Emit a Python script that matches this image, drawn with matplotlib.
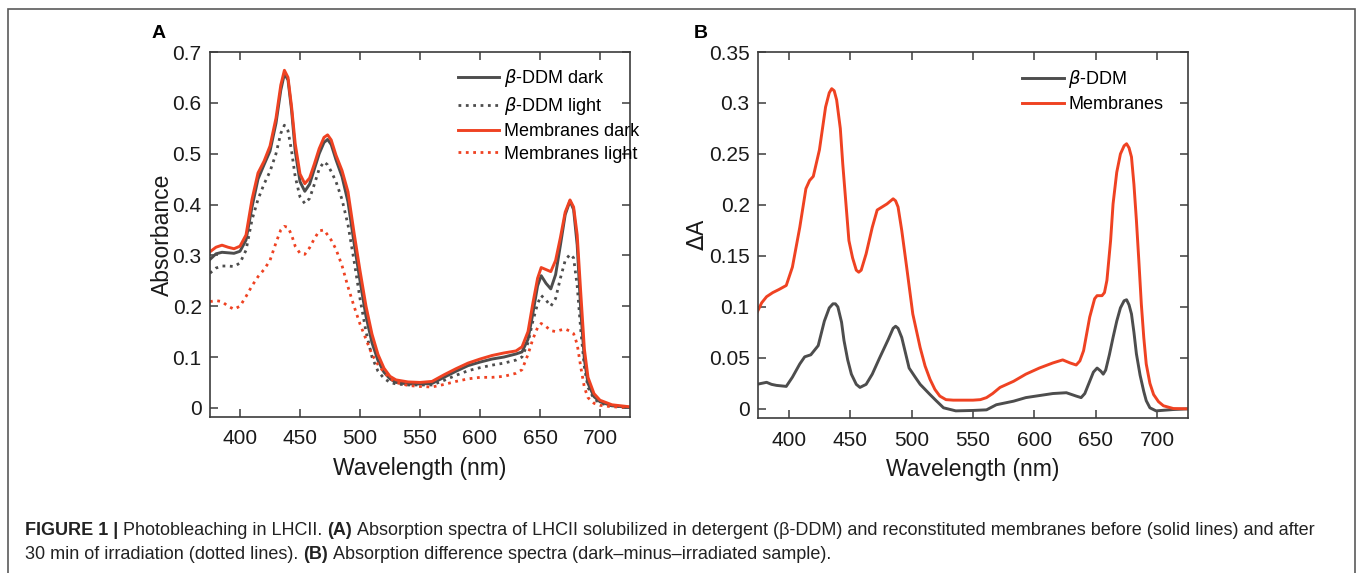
import matplotlib
matplotlib.use("Agg")
import matplotlib.pyplot as plt
from matplotlib.patches import Rectangle
from matplotlib.transforms import IdentityTransform

plt.rcParams['font.family'] = ['Liberation Sans', 'DejaVu Sans']
plt.rcParams['mathtext.fontset'] = 'dejavusans'

# ---- panel A: absorption spectra ----
wl_a = [375, 380, 385, 390, 395, 400, 405, 410, 415, 420, 425, 430, 434, 437, 440,
        443, 446, 450, 454, 458, 462, 466, 470, 473, 476, 480, 485, 490, 495, 500,
        505, 510, 515, 520, 525, 530, 540, 550, 560, 570, 580, 590, 600, 610, 620,
        630, 635, 640, 644, 648, 651, 655, 659, 663, 667, 671, 675, 678, 681, 684,
        687, 690, 695, 700, 710, 725]

ddm_dark = [.292, .303, .306, .305, .304, .308, .330, .395, .450, .478, .505, .560, .625, .657, .645,
            .585, .505, .445, .426, .440, .470, .500, .522, .528, .518, .488, .455, .405, .325, .250,
            .180, .128, .093, .070, .057, .050, .047, .047, .048, .060, .072, .083, .090, .096, .100,
            .106, .110, .135, .185, .240, .260, .245, .234, .262, .320, .380, .407, .390, .320, .190,
            .095, .048, .022, .012, .004, .001]

ddm_light = [.265, .275, .279, .279, .278, .285, .310, .370, .410, .440, .465, .500, .540, .556, .545,
             .505, .455, .415, .402, .412, .440, .470, .484, .478, .465, .445, .410, .360, .290, .215,
             .150, .100, .072, .058, .050, .047, .045, .045, .045, .054, .064, .073, .079, .084, .088,
             .094, .100, .128, .170, .205, .221, .212, .200, .215, .255, .290, .302, .295, .240, .152,
             .080, .040, .018, .009, .004, .001]

mem_dark = [.307, .316, .320, .316, .313, .318, .340, .410, .462, .485, .515, .570, .635, .664, .650,
            .592, .520, .460, .441, .452, .480, .510, .532, .537, .527, .497, .467, .425, .345, .270,
            .200, .145, .105, .078, .062, .055, .051, .050, .052, .065, .077, .088, .096, .103, .108,
            .112, .120, .150, .205, .255, .276, .272, .268, .290, .335, .385, .409, .395, .340, .225,
            .115, .060, .028, .015, .006, .002]

mem_light = [.209, .211, .209, .200, .194, .200, .219, .240, .258, .272, .290, .325, .350, .357, .355,
             .340, .318, .304, .302, .315, .333, .348, .350, .340, .330, .312, .280, .238, .200, .165,
             .135, .105, .085, .070, .058, .050, .044, .042, .041, .046, .052, .057, .060, .060, .062,
             .068, .075, .105, .135, .158, .166, .160, .152, .150, .153, .155, .151, .146, .125, .080,
             .040, .020, .009, .005, .002, .001]

# ---- panel B: difference spectra (dark minus irradiated) ----
wl_b_mem = [374, 378, 382, 387, 392, 398, 403, 409, 414, 417, 420, 425, 430, 433, 435, 437, 439,
            442, 444, 447, 449, 452, 455, 457, 459, 463, 468, 472, 476, 480, 485, 487, 489, 492,
            496, 501, 507, 511, 515, 519, 523, 528, 534, 550, 556, 561, 566, 572, 583, 593, 604,
            615, 623, 629, 634, 637, 640, 645, 649, 651, 655, 657, 659, 662, 664, 667, 670, 673,
            675, 677, 679, 681, 683, 685, 687, 689, 691, 694, 697, 701, 705, 713, 725]
diff_mem = [.094, .104, .110, .114, .117, .121, .139, .178, .216, .224, .228, .254, .296, .310, .314, .312, .303,
            .275, .240, .195, .165, .148, .136, .134, .136, .152, .178, .195, .198, .201, .206, .204, .198, .175,
            .139, .093, .060, .042, .029, .019, .0125, .009, .0085, .0085, .009, .011, .015, .021, .027, .034, .040,
            .045, .048, .045, .043, .047, .057, .090, .108, .111, .111, .114, .126, .165, .201, .232, .250, .258,
            .260, .256, .247, .220, .185, .145, .103, .070, .044, .025, .014, .007, .003, .0003, 0]

wl_b_ddm = [374, 378, 382, 386, 390, 394, 398, 403, 409, 413, 418, 424, 429, 433, 436, 438, 440,
            443, 445, 448, 451, 455, 458, 463, 468, 474, 481, 485, 487, 489, 492, 495, 498, 503,
            507, 511, 515, 520, 526, 536, 550, 561, 569, 583, 593, 604, 615, 626, 634, 638, 641,
            644, 648, 651, 654, 656, 658, 661, 664, 667, 670, 673, 675, 677, 679, 681, 683, 686,
            689, 691, 694, 699, 713, 725]
diff_ddm = [.024, .025, .026, .024, .023, .0225, .022, .031, .044, .051, .053, .062, .086, .099, .103, .103, .100,
            .085, .067, .048, .034, .024, .021, .024, .034, .050, .068, .079, .081, .079, .070, .055, .040, .031,
            .024, .019, .014, .008, .001, -.002, -.0016, -.001, .004, .0075, .011, .013, .015, .0158, .0125, .011, .015,
            .024, .036, .040, .037, .034, .038, .053, .070, .086, .099, .106, .107, .102, .093, .075, .054, .033,
            .017, .008, .001, -.002, -.0007, 0]

x_ticks = [400, 450, 500, 550, 600, 650, 700]
a_yticks = [0, 0.1, 0.2, 0.3, 0.4, 0.5, 0.6, 0.7]
a_ylabels = ['0', '0.1', '0.2', '0.3', '0.4', '0.5', '0.6', '0.7']
b_yticks = [0, 0.05, 0.1, 0.15, 0.2, 0.25, 0.3, 0.35]
b_ylabels = ['0', '0.05', '0.1', '0.15', '0.2', '0.25', '0.3', '0.35']

GREY = '#4d4d4d'
RED = '#ef4222'
SPINE = '#3c3c3c'

W, H = 1357, 573
fig = plt.figure(figsize=(W / 100, H / 100), dpi=100)


def px_axes(l, t, r, b):
    return fig.add_axes([l / W, 1 - b / H, (r - l) / W, (b - t) / H])


def style(ax):
    for s in ax.spines.values():
        s.set_color(SPINE)
        s.set_linewidth(1.2)
    ax.tick_params(direction='in', length=5.5, width=1.1, color=SPINE,
                   top=True, right=True, labelsize=15, labelcolor='#1a1a1a')
    ax.tick_params(axis='x', pad=9)
    ax.tick_params(axis='y', pad=6)
    ax.set_xlim(375, 725)
    ax.set_xticks(x_ticks)
    ax.set_xticklabels([str(v) for v in x_ticks])
    ax.set_xlabel('Wavelength (nm)', fontsize=16.5, color='#1a1a1a', labelpad=6)


axA = px_axes(210, 52, 630, 417)
axA.plot(wl_a, ddm_dark, color=GREY, lw=2.1, label=r'$\beta$-DDM dark')
axA.plot(wl_a, ddm_light, color=GREY, lw=2.0, ls=':', label=r'$\beta$-DDM light')
axA.plot(wl_a, mem_dark, color=RED, lw=2.1, label='Membranes dark')
axA.plot(wl_a, mem_light, color=RED, lw=2.0, ls=':', label='Membranes light')
style(axA)
axA.set_ylim(-0.018, 0.7)
axA.set_yticks(a_yticks)
axA.set_yticklabels(a_ylabels)
axA.set_ylabel('Absorbance', fontsize=16.5, color='#1a1a1a', labelpad=-1)
axA.legend(loc='upper left', bbox_to_anchor=(0.59, 0.958), frameon=False, fontsize=13,
           handlelength=2.3, handletextpad=0.25, labelspacing=0.32, borderpad=0, borderaxespad=0)

axB = px_axes(758, 52, 1188, 418)
axB.plot(wl_b_ddm, diff_ddm, color=GREY, lw=2.1, label=r'$\beta$-DDM')
axB.plot(wl_b_mem, diff_mem, color=RED, lw=2.1, label='Membranes')
style(axB)
axB.set_ylim(-0.009, 0.35)
axB.set_yticks(b_yticks)
axB.set_yticklabels(b_ylabels)
axB.set_ylabel(r'$\Delta$A', fontsize=16.5, color='#1a1a1a', labelpad=0)
axB.legend(loc='upper left', bbox_to_anchor=(0.614, 0.956), frameon=False, fontsize=13,
           handlelength=2.3, handletextpad=0.25, labelspacing=0.32, borderpad=0, borderaxespad=0)

# panel letters
fig.text(152 / W, 1 - 34 / H, 'A', fontsize=14, fontweight='bold', va='center')
fig.text(694 / W, 1 - 34 / H, 'B', fontsize=14, fontweight='bold', va='center')

# outer frame
fig.add_artist(Rectangle((8 / W, -0.05), (1355 - 8) / W, 1.05 - 9 / H, transform=fig.transFigure,
                         fill=False, edgecolor='#5a5a5a', lw=1.2))

# caption with bold fragments
cap_size = 12.95
renderer = fig.canvas.get_renderer()
space = cap_size * 100 / 72 * 0.278


def caption_line(parts, x, y):
    for txt, bold in parts:
        t = fig.text(x, H - y, txt, fontsize=cap_size, color='#222222',
                     fontweight='bold' if bold else 'normal',
                     transform=IdentityTransform(), va='baseline')
        x += t.get_window_extent(renderer).width + space


caption_line([('FIGURE 1 |', True), ('Photobleaching in LHCII.', False), ('(A)', True),
              ('Absorption spectra of LHCII solubilized in detergent (\u03b2-DDM) and reconstituted '
               'membranes before (solid lines) and after', False)], 25, 535)
caption_line([('30 min of irradiation (dotted lines).', False), ('(B)', True),
              ('Absorption difference spectra (dark\u2013minus\u2013irradiated sample).', False)], 25, 559)

fig.savefig('out.png', dpi=100)
